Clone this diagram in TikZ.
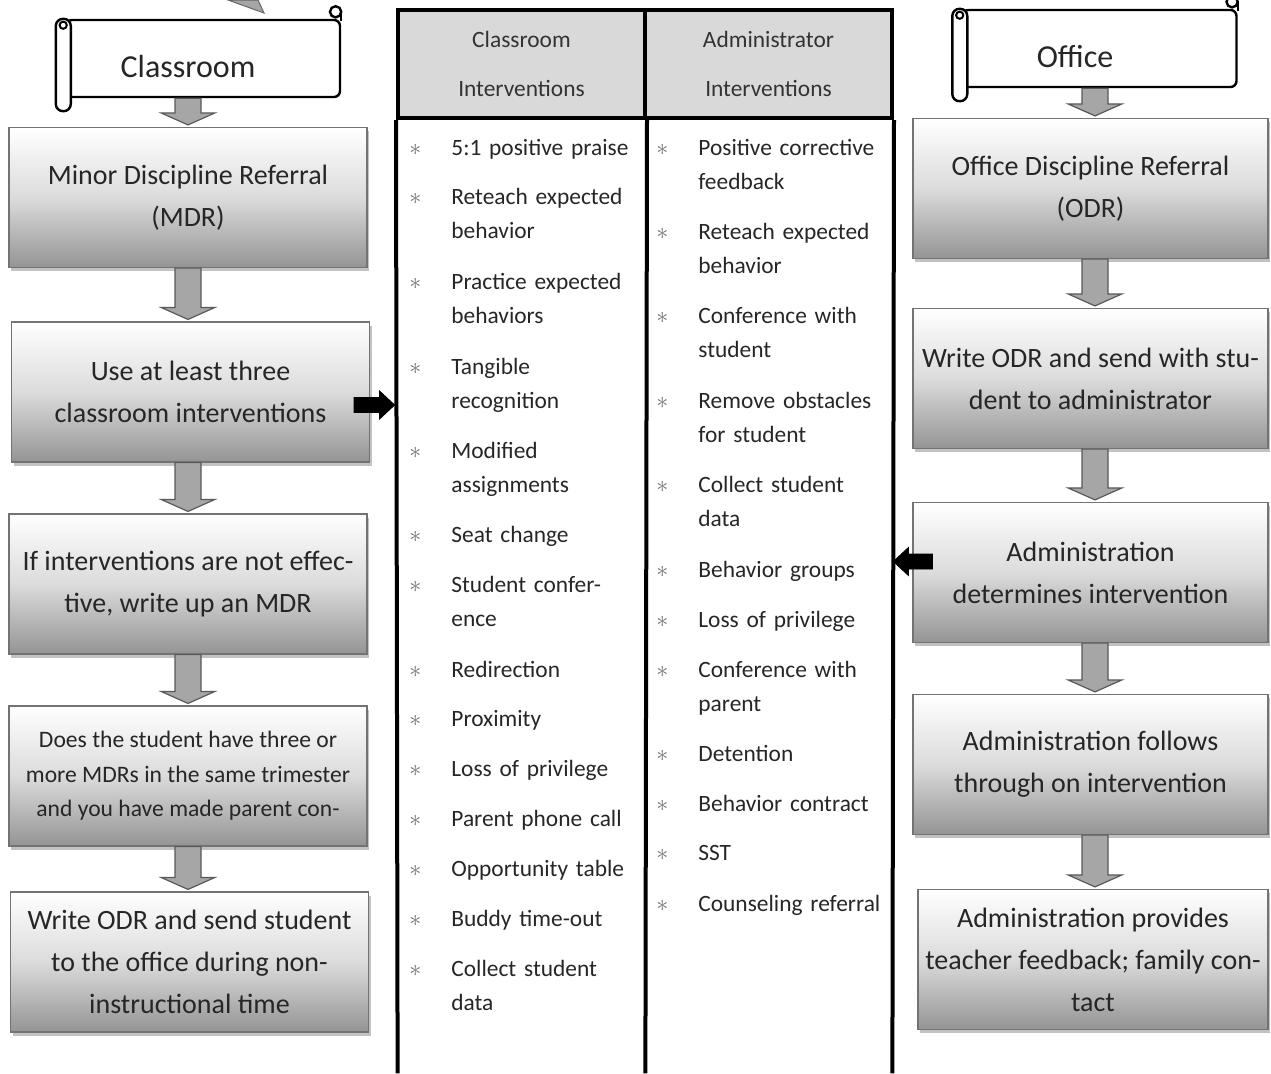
\documentclass[tikz,border=0pt]{standalone}
\usepackage{fontspec}
\setmainfont{Carlito}
\usepackage{tikz}
\usetikzlibrary{positioning,calc,shadows}

\begin{document}
\begin{tikzpicture}[x=0.5pt, y=-0.5pt,
  stepbox/.style={rectangle, draw=black!55, line width=0.6pt, top color=white, bottom color=black!42, middle color=black!14, drop shadow={shadow xshift=1pt, shadow yshift=-1.8pt, fill=black!40, opacity=0.6}, minimum width=179pt, minimum height=70pt, inner sep=2pt, align=center, text=black!85, font=\fontsize{14}{21}\selectfont},
  scroll/.style={rectangle, draw=black, line width=1.2pt, fill=white, rounded corners=3pt, minimum width=137pt, minimum height=38.5pt, inner sep=0pt},
  roll/.style={draw=black, line width=1.2pt, fill=white, rounded corners=3.6pt},
  scrolltext/.style={font=\fontsize{16}{18}\selectfont, text=black!85},
  headcell/.style={rectangle, draw=black, line width=2pt, fill=black!15, minimum width=123.5pt, minimum height=54pt, align=center, text=black!80, font=\fontsize{11.7}{24.5}\selectfont},
  colcell/.style={rectangle, minimum width=123.5pt, minimum height=477.5pt},
  frame/.style={draw=black, line width=2pt},
  listitem/.style={anchor=base west, text width=118pt, align=left, inner sep=0pt, text=black!85, font=\fontsize{11.7}{17}\selectfont, execute at begin node={\leavevmode\llap{\textcolor{black!55}{$\ast$}\hspace{15pt}}}},
  downarr/.style={draw=black!65, fill=black!35, line width=0.6pt, to path={let \p1=(\tikztostart), \p2=(\tikztotarget) in (\x1-6.5pt,\y1) -- (\x1-6.5pt,\y2+7pt) -- (\x1-13.5pt,\y2+7pt) -- (\x1,\y2+1pt) -- (\x1+13.5pt,\y2+7pt) -- (\x1+6.5pt,\y2+7pt) -- (\x1+6.5pt,\y1) -- cycle}},
  rightarr/.style={draw=black, fill=black, line width=0.4pt, to path={let \p1=(\tikztostart), \p2=(\tikztotarget) in (\x1,\y1+3.75pt) -- (\x2-7.5pt,\y1+3.75pt) -- (\x2-7.5pt,\y1+7pt) -- (\x2,\y1) -- (\x2-7.5pt,\y1-7pt) -- (\x2-7.5pt,\y1-3.75pt) -- (\x1,\y1-3.75pt) -- cycle}},
  leftarr/.style={draw=black, fill=black, line width=0.4pt, to path={let \p1=(\tikztostart), \p2=(\tikztotarget) in (\x1,\y1+3.75pt) -- (\x2+7.5pt,\y1+3.75pt) -- (\x2+7.5pt,\y1+7pt) -- (\x2,\y1) -- (\x2+7.5pt,\y1-7pt) -- (\x2+7.5pt,\y1-3.75pt) -- (\x1,\y1-3.75pt) -- cycle}}
]
\useasboundingbox (0,0) rectangle (1271,1073);

%help grid
%\draw[help lines] (0,0) grid[step=50] (1271,1073);

%%% CLASSROOM SCROLL
\draw[fill=black!35, draw=black!60, line width=0.5pt] (228,0) -- (258,0) -- (264,13) -- cycle;
\node[scroll] (classroom) at (203,58.5) {};
\draw[roll] ([xshift=-4.5pt]classroom.north west) rectangle ([xshift=3pt,yshift=-6.5pt]classroom.south west);
\draw[line width=1pt, fill=white] ([xshift=-0.8pt,yshift=-3.2pt]classroom.north west) circle (1.8pt);
\draw[line width=1.2pt] ([yshift=3.5pt]classroom.north east) -- ([yshift=-1pt]classroom.north east);
\draw[line width=1.2pt, fill=white] ([xshift=-2.8pt,yshift=3.5pt]classroom.north east) circle (2.8pt);
\node[scrolltext] (classroom-txt) at ([xshift=-7.5pt,yshift=-3.75pt]classroom.center) {Classroom};

%%% OFFICE SCROLL
\node[scroll] (office) at (1099.5,48.5) {};
\draw[roll] ([xshift=-4.5pt]office.north west) rectangle ([xshift=3pt,yshift=-6.5pt]office.south west);
\draw[line width=1pt, fill=white] ([xshift=-0.8pt,yshift=-3.2pt]office.north west) circle (1.8pt);
\draw[line width=1.2pt] ([yshift=3.5pt]office.north east) -- ([yshift=-1pt]office.north east);
\draw[line width=1.2pt, fill=white] ([xshift=-2.8pt,yshift=3.5pt]office.north east) circle (2.8pt);
\node[scrolltext] (office-txt) at ([xshift=-12.25pt,yshift=-4.25pt]office.center) {Office};

%%% CLASSROOM STEPS
\node[stepbox] (mdr) at (188,197.5) {Minor Discipline Referral\\(MDR)};
\node[stepbox] (three) at (190.5,392) {Use at least three\\classroom interventions};
\node[stepbox] (effective) at (188,584) {If interventions are not effec-\\tive, write up an MDR};
\node[stepbox, font=\fontsize{11.8}{17.25}\selectfont] (threemdr) at (188,776) {Does the student have three or\\more MDRs in the same trimester\\and you have made parent con-};
\node[stepbox] (sendodr) at (189.5,962) {Write ODR and send student\\to the office during non-\\instructional time};

%%% OFFICE STEPS
\node[stepbox, minimum width=177.5pt] (odr) at (1090.5,188.5) {Office Discipline Referral\\(ODR)};
\node[stepbox, minimum width=177.5pt] (sendadmin) at (1090.5,378.5) {Write ODR and send with stu-\\dent to administrator};
\node[stepbox, minimum width=177.5pt] (admdet) at (1090.5,572.5) {Administration\\determines intervention};
\node[stepbox, minimum width=177.5pt] (admfollow) at (1090.5,764.5) {Administration follows\\through on intervention};
\node[stepbox, minimum width=175pt] (admfeedback) at (1093,959.5) {Administration provides\\teacher feedback; family con-\\tact};

%%% INTERVENTION TABLE
\node[headcell] (clhead) at (521.5,64) {Classroom\\Interventions};
\node[headcell] (adhead) at (768.5,64) {Administrator\\Interventions};
\node[colcell] (clbody) at (521.5,595.5) {};
\node[colcell] (adbody) at (768.5,595.5) {};
\draw[frame] (clhead.south west) -- (clbody.south west);
\draw[frame] (clhead.south east) -- (clbody.south east);
\draw[frame] (adhead.south east) -- (adbody.south east);

%%% classroom interventions
\node[listitem] (cl-praise) at (451,155) {5:1 positive praise};
\node[listitem] (cl-reteach) at (451,204) {Reteach expected\\behavior};
\node[listitem] (cl-practice) at (451,289) {Practice expected\\behaviors};
\node[listitem] (cl-tangible) at (451,374) {Tangible\\recognition};
\node[listitem] (cl-modified) at (451,458) {Modified\\assignments};
\node[listitem] (cl-seat) at (451,542) {Seat change};
\node[listitem] (cl-confer) at (451,592) {Student confer-\\ence};
\node[listitem] (cl-redirect) at (451,677) {Redirection};
\node[listitem] (cl-proximity) at (451,726) {Proximity};
\node[listitem] (cl-loss) at (451,776) {Loss of privilege};
\node[listitem] (cl-phone) at (451,826) {Parent phone call};
\node[listitem] (cl-table) at (451,876) {Opportunity table};
\node[listitem] (cl-buddy) at (451,926) {Buddy time-out};
\node[listitem] (cl-data) at (451,976) {Collect student\\data};

%%% administrator interventions
\node[listitem] (ad-feedback) at (698,155) {Positive corrective\\feedback};
\node[listitem] (ad-reteach) at (698,239) {Reteach expected\\behavior};
\node[listitem] (ad-confstud) at (698,323) {Conference with\\student};
\node[listitem] (ad-obstacles) at (698,408) {Remove obstacles\\for student};
\node[listitem] (ad-data) at (698,492) {Collect student\\data};
\node[listitem] (ad-groups) at (698,577) {Behavior groups};
\node[listitem] (ad-loss) at (698,627) {Loss of privilege};
\node[listitem] (ad-confpar) at (698,677) {Conference with\\parent};
\node[listitem] (ad-detention) at (698,761) {Detention};
\node[listitem] (ad-contract) at (698,811) {Behavior contract};
\node[listitem] (ad-sst) at (698,860) {SST};
\node[listitem] (ad-counsel) at (698,911) {Counseling referral};

%%% connections, arrows
\draw[downarr] (mdr.north |- classroom.south) to (mdr.north);
\draw[downarr] (mdr.south) to (three.north);
\draw[downarr] (mdr.south |- three.south) to (effective.north);
\draw[downarr] (effective.south) to (threemdr.north);
\draw[downarr] (threemdr.south) to (sendodr.north);

\draw[downarr] ([xshift=2.25pt]odr.north |- office.south) to (odr.north);
\draw[downarr] ([xshift=2.25pt]odr.south) to (sendadmin.north);
\draw[downarr] ([xshift=2.25pt]sendadmin.south) to (admdet.north);
\draw[downarr] ([xshift=2.25pt]admdet.south) to (admfollow.north);
\draw[downarr] ([xshift=2.25pt]admfollow.south) to (admfeedback.north);

\draw[rightarr] ([xshift=-8pt,yshift=-6.5pt]three.east) to ([xshift=-1.5pt]clbody.west);
\draw[leftarr] ([xshift=10pt,yshift=5.5pt]admdet.west) to ([xshift=0.5pt]adbody.east);

\end{tikzpicture}
\end{document}
